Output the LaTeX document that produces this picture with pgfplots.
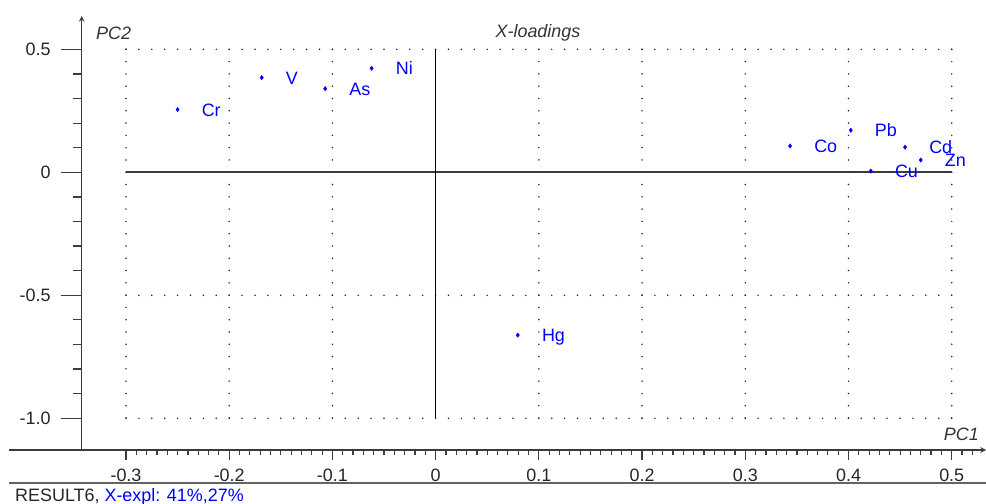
\documentclass[border=0pt]{standalone}
\usepackage{fontspec}
\setmainfont{Liberation Sans}
\usepackage{pgfplots}
\usepackage{pgfplotstable}
\pgfplotsset{compat=1.18}

\definecolor{ptblue}{RGB}{0,0,255}
\definecolor{axgray}{RGB}{60,60,60}
\definecolor{dotgray}{RGB}{40,40,40}

\newcommand{\chartfont}{\fontsize{18}{21}\selectfont}

\tikzset{
  hdots/.style={dotgray, line width=1.7bp, line cap=round, dash pattern=on 0bp off 12.9bp},
  vdots/.style={dotgray, line width=1.7bp, line cap=round, dash pattern=on 0bp off 12.29bp},
}

% PCA X-loadings (PC1, PC2)
\pgfplotstableread{
x       y       lab
-0.2500  0.255  Cr
-0.1685  0.385  V
-0.1070  0.340  As
-0.0620  0.423  Ni
 0.0796 -0.662  Hg
 0.3434  0.107  Co
 0.4022  0.171  Pb
 0.4548  0.102  Cd
 0.4700  0.050  Zn
 0.4216  0.005  Cu
}\loadings

\begin{document}
\begin{tikzpicture}
\pgfplotsset{
  frame/.style={
    at={(81.7bp,54bp)}, anchor=south west,
    scale only axis, width=904.3bp, height=434bp,
    xmin=-0.3429, xmax=0.5332, ymin=-1.129, ymax=0.6355,
    clip=false,
    axis line style={-, axgray, line width=1.5bp},
    tick style={axgray, line width=1.2bp},
    ticklabel style={font=\chartfont, text=black!85},
  },
}

% y axis, grid, data
\begin{axis}[frame,
  axis x line=none, axis y line=left,
  tick align=outside,
  xtick=\empty,
  ytick={-1,-0.5,0,0.5},
  yticklabels={-1.0,-0.5,0,0.5},
  minor ytick={-0.9,-0.8,-0.7,-0.6,-0.4,-0.3,-0.2,-0.1,0.1,0.2,0.3,0.4},
  major tick length=21bp, minor tick length=9bp,
  yticklabel style={anchor=east, inner sep=0pt, xshift=-10bp},
]
  % dotted grid
  \pgfplotsinvokeforeach{0.5,-0.5,-1}{
    \draw[hdots] (-0.3,#1) -- (0.5,#1);
  }
  \pgfplotsinvokeforeach{-0.3,-0.2,-0.1,0.1,0.2,0.3,0.4,0.5}{
    \draw[vdots] (#1,0.5) -- (#1,-1);
  }
  % zero lines
  \draw[axgray, line width=1.8bp] (-0.3,0) -- (0.5,0);
  \draw[black, line width=1.4bp] (0,0.5) -- (0,-1);

  \addplot[only marks, mark=diamond*, mark size=2.2bp, color=ptblue,
    nodes near coords, point meta=explicit symbolic,
    nodes near coords style={anchor=base west, inner sep=0pt,
      xshift=24bp, yshift=-6.5bp, text=ptblue, font=\chartfont}]
    table[x=x, y=y, meta=lab]{\loadings};
\end{axis}

% x axis
\begin{axis}[frame,
  axis x line=bottom, axis y line=none,
  tick align=outside,
  ytick=\empty,
  xtick={-0.3,-0.2,-0.1,0,0.1,0.2,0.3,0.4,0.5},
  xticklabels={-0.3,-0.2,-0.1,0,0.1,0.2,0.3,0.4,0.5},
  minor xtick={-0.29,-0.28,...,0.515},
  major tick length=10bp, minor tick length=5bp,
  xticklabel style={yshift=-5bp},
]
\end{axis}

% axis line continuation and footer rule
\draw[axgray, line width=1.5bp] (9bp,54bp) -- (82bp,54bp);
\draw[axgray!80, line width=1.5bp] (9bp,21bp) -- (986bp,21bp);

% titles
\node[anchor=west, inner sep=0pt, font=\chartfont\itshape, text=black!80] at (96bp,471bp) {PC2};
\node[inner sep=0pt, font=\chartfont\itshape, text=black!80] at (538bp,471bp) {X-loadings};
\node[anchor=east, inner sep=0pt, font=\chartfont\itshape, text=black!80] at (979bp,70bp) {PC1};
\node[anchor=west, inner sep=0pt, font=\chartfont] at (15bp,7bp)
  {\textcolor{black!85}{RESULT6,} \textcolor{ptblue}{X-expl: 41\%,27\%}};

\pgfresetboundingbox
\useasboundingbox (0,0) rectangle (986bp,504bp);
\end{tikzpicture}
\end{document}
